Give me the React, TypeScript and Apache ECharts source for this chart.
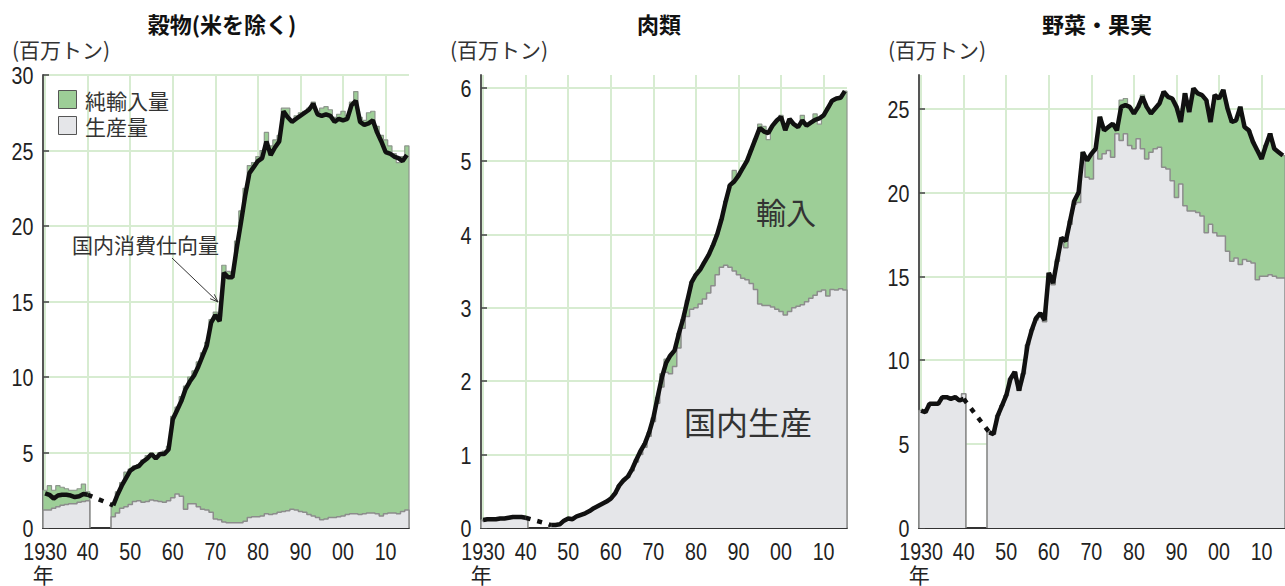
import React, { useEffect, useRef } from 'react';
import * as echarts from 'echarts';

const N = null;
const years: number[] = Array.from({ length: 86 }, (_, i) => 1930 + i);
const decadeTicks = [1930, 1940, 1950, 1960, 1970, 1980, 1990, 2000, 2010];

// ---- 穀物(米を除く) ----
const grainProduction = [
  1.2, 1.2, 1.3, 1.4, 1.5, 1.55, 1.6, 1.6, 1.7, 1.75, 1.8,
  N, N, N, N, N,
  0.75, 1.0, 1.3, 1.4, 1.55, 1.75, 1.8, 1.7, 1.75, 1.85,
  1.8, 1.75, 1.7, 1.8, 2.0, 2.25, 2.1, 1.25, 1.6, 1.6,
  1.4, 1.25, 1.2, 1.05, 0.6, 0.55, 0.4, 0.35, 0.35, 0.35,
  0.35, 0.45, 0.7, 0.75, 0.75, 0.8, 0.95, 0.9, 0.95, 1.05,
  1.1, 1.15, 1.25, 1.2, 1.1, 1.05, 0.9, 0.8, 0.7, 0.55,
  0.6, 0.7, 0.7, 0.75, 0.8, 0.9, 0.95, 0.95, 0.9, 0.95,
  1.0, 1.0, 0.95, 0.8, 0.95, 1.0, 1.0, 0.95, 1.1, 1.2,
];
const grainSupply = [
  2.5, 2.8, 2.5, 2.8, 2.7, 2.6, 2.5, 2.5, 2.6, 2.9, 2.4,
  N, N, N, N, N,
  1.6, 2.4, 3.0, 3.7, 3.9, 4.1, 4.2, 4.5, 4.8, 4.9,
  4.8, 5.0, 5.1, 5.4, 7.4, 8.0, 8.7, 9.4, 10.0, 10.4,
  11.0, 11.6, 12.3, 13.8, 14.3, 14.0, 17.4, 17.0, 16.9, 19.0,
  21.0, 22.5, 24.0, 24.2, 24.6, 25.0, 26.2, 25.3, 25.7, 26.0,
  27.8, 27.8, 27.0, 27.3, 27.5, 27.6, 27.8, 28.2, 27.5, 27.8,
  27.9, 27.7, 27.2, 27.4, 27.6, 27.3, 28.2, 28.9, 27.2, 27.0,
  27.5, 27.6, 26.6, 26.0, 25.7, 25.3, 24.8, 24.2, 24.6, 25.3,
];
const grainConsumption = [
  2.3, 2.2, 1.95, 2.15, 2.2, 2.2, 2.15, 2.05, 2.1, 2.25, 2.2,
  N, N, N, N, N,
  1.5, 2.2, 2.8, 3.3, 3.8, 4.0, 4.1, 4.4, 4.6, 4.9,
  4.6, 4.9, 4.9, 5.2, 7.2, 7.8, 8.4, 9.2, 9.7, 10.1,
  10.7, 11.4, 12.1, 13.6, 14.1, 13.7, 16.9, 16.6, 16.6, 18.5,
  20.2, 22.0, 23.5, 23.9, 24.3, 24.5, 25.6, 24.7, 25.2, 25.6,
  27.6, 27.2, 26.9, 27.1, 27.3, 27.5, 27.7, 28.1, 27.4, 27.3,
  27.4, 27.3, 26.9, 27.1, 27.0, 27.1, 28.0, 28.3, 26.9, 26.7,
  26.8, 27.0, 26.2, 25.6, 24.9, 24.8, 24.6, 24.5, 24.3, 24.7,
];
const grainYTicks = [0, 5, 10, 15, 20, 25, 30];

// ---- 肉類 ----
const meatProduction = [
  0.1, 0.11, 0.11, 0.11, 0.12, 0.12, 0.13, 0.14, 0.14, 0.14, 0.13,
  N, N, N, N, N,
  0.04, 0.04, 0.05, 0.1, 0.13, 0.12, 0.16, 0.18, 0.2, 0.23,
  0.27, 0.3, 0.33, 0.36, 0.4, 0.47, 0.58, 0.64, 0.69, 0.78,
  0.9, 1.0, 1.1, 1.25, 1.45, 1.7, 1.92, 2.12, 2.1, 2.2,
  2.45, 2.72, 2.88, 2.98, 3.0, 3.05, 3.12, 3.2, 3.3, 3.45,
  3.55, 3.58, 3.55, 3.5, 3.45, 3.4, 3.38, 3.33, 3.25, 3.05,
  3.03, 3.03, 3.01, 2.98, 2.95, 2.9, 2.95, 3.0, 3.02, 3.04,
  3.08, 3.13, 3.17, 3.22, 3.24, 3.16, 3.25, 3.24, 3.26, 3.24,
];
const meatSupply = [
  0.11, 0.12, 0.12, 0.12, 0.13, 0.13, 0.14, 0.15, 0.15, 0.15, 0.14,
  N, N, N, N, N,
  0.04, 0.04, 0.05, 0.1, 0.13, 0.12, 0.16, 0.18, 0.2, 0.23,
  0.27, 0.3, 0.33, 0.36, 0.4, 0.47, 0.58, 0.65, 0.7, 0.8,
  0.93, 1.05, 1.15, 1.3, 1.5, 1.78, 2.1, 2.3, 2.35, 2.42,
  2.65, 2.85, 3.1, 3.35, 3.45, 3.52, 3.62, 3.72, 3.85, 4.0,
  4.2, 4.45, 4.67, 4.87, 4.8, 4.9, 5.0, 5.15, 5.3, 5.5,
  5.47, 5.29, 5.48, 5.55, 5.62, 5.42, 5.57, 5.5, 5.46, 5.62,
  5.48, 5.52, 5.64, 5.5, 5.62, 5.72, 5.82, 5.85, 5.86, 5.95,
];
const meatConsumption = [
  0.11, 0.12, 0.12, 0.12, 0.13, 0.13, 0.14, 0.15, 0.15, 0.15, 0.14,
  N, N, N, N, N,
  0.04, 0.04, 0.05, 0.1, 0.13, 0.12, 0.16, 0.18, 0.2, 0.23,
  0.27, 0.3, 0.33, 0.36, 0.4, 0.47, 0.58, 0.65, 0.7, 0.8,
  0.93, 1.05, 1.15, 1.3, 1.5, 1.78, 2.05, 2.25, 2.35, 2.42,
  2.65, 2.85, 3.1, 3.35, 3.45, 3.52, 3.62, 3.72, 3.85, 4.0,
  4.2, 4.45, 4.67, 4.72, 4.8, 4.9, 5.0, 5.15, 5.3, 5.45,
  5.4, 5.38, 5.48, 5.55, 5.6, 5.42, 5.57, 5.5, 5.46, 5.55,
  5.48, 5.52, 5.56, 5.58, 5.62, 5.72, 5.82, 5.85, 5.86, 5.95,
];
const meatYTicks = [0, 1, 2, 3, 4, 5, 6];

// ---- 野菜・果実 ----
const vegProduction = [
  7.0, 6.9, 7.4, 7.4, 7.4, 7.8, 7.8, 7.7, 7.8, 7.6, 8.0,
  N, N, N, N, N,
  5.7, 5.6, 6.7, 7.3, 7.9, 8.9, 9.3, 8.2, 9.2, 10.9,
  11.8, 12.4, 12.7, 12.3, 15.0, 14.5, 15.9, 17.2, 16.7, 18.1,
  19.3, 19.4, 22.1, 20.9, 20.8, 22.5, 22.0, 22.3, 22.5, 22.1,
  23.5, 23.1, 23.5, 22.8, 22.6, 23.2, 22.6, 22.0, 22.4, 22.6,
  22.7, 21.5, 21.4, 20.7, 19.7, 20.5, 19.2, 18.9, 18.9, 18.8,
  18.6, 17.6, 18.1, 17.6, 17.4, 17.4, 16.5, 15.9, 16.1, 15.7,
  16.0, 15.9, 15.8, 14.8, 15.0, 15.0, 15.1, 15.0, 14.9, 14.9,
];
const vegSupply = [
  7.0, 6.9, 7.4, 7.4, 7.4, 7.8, 7.8, 7.7, 7.8, 7.6, 8.0,
  N, N, N, N, N,
  5.7, 5.6, 6.7, 7.3, 7.9, 8.9, 9.3, 8.2, 9.2, 10.9,
  11.8, 12.5, 12.8, 12.4, 15.2, 14.6, 16.0, 17.3, 17.1, 18.3,
  19.5, 20.0, 22.4, 21.9, 22.3, 22.6, 24.5, 23.7, 23.9, 24.1,
  23.7, 25.5, 25.6, 25.1, 24.7, 25.1, 25.8, 25.1, 24.7, 25.0,
  25.3, 26.0, 25.7, 25.6, 25.1, 24.2, 25.9, 24.8, 26.2, 25.9,
  25.8, 25.5, 24.2, 25.8, 25.6, 26.1, 25.0, 24.2, 24.3, 25.1,
  23.9, 23.7, 23.0, 22.5, 22.0, 22.8, 23.5, 22.6, 22.4, 22.2,
];
const vegConsumption = [
  7.0, 6.9, 7.4, 7.4, 7.4, 7.8, 7.8, 7.7, 7.8, 7.6, 7.7,
  N, N, N, N, N,
  5.7, 5.6, 6.7, 7.3, 7.9, 8.9, 9.3, 8.2, 9.2, 10.9,
  11.8, 12.5, 12.8, 12.4, 15.2, 14.6, 16.0, 17.3, 17.1, 18.3,
  19.5, 20.0, 22.4, 21.9, 22.3, 22.6, 24.5, 23.7, 23.9, 24.1,
  23.7, 25.1, 25.2, 25.1, 24.7, 25.1, 25.7, 25.1, 24.7, 25.0,
  25.3, 26.0, 25.7, 25.6, 25.1, 24.2, 25.9, 24.8, 26.2, 25.9,
  25.8, 25.5, 24.2, 25.8, 25.6, 26.1, 25.0, 24.2, 24.3, 25.1,
  23.9, 23.7, 23.0, 22.5, 22.0, 22.8, 23.5, 22.6, 22.4, 22.2,
];
const vegYTicks = [0, 5, 10, 15, 20, 25];

const titles = ['穀物(米を除く)', '肉類', '野菜・果実'];
const unitLabel = '(百万トン)';
const legendLabels = ['純輸入量', '生産量'];
const yearUnit = '年';

const GREEN = '#9dce97';
const GRAY = '#e5e6e9';
const GRID = '#d7ecd1';
const NUM_FONT = '"Liberation Sans", Arial, sans-serif';
const JP_FONT = '"Noto Sans CJK JP", "Noto Sans", sans-serif';

type Val = number | null;

function segments(vals: Val[]): number[][][] {
  const segs: number[][][] = [];
  let cur: number[][] | null = null;
  vals.forEach((v, i) => {
    if (v == null) { cur = null; return; }
    if (!cur) { cur = []; segs.push(cur); }
    cur.push([years[i], v]);
  });
  return segs;
}

function toSteps(seg: number[][]): number[][] {
  const pts: number[][] = [[seg[0][0] - 0.5, 0]];
  seg.forEach(([x, v]) => { pts.push([x - 0.5, v], [x + 0.5, v]); });
  pts.push([seg[seg.length - 1][0] + 0.5, 0]);
  return pts;
}

const panels = [
  { prod: grainProduction, sup: grainSupply, cons: grainConsumption, yMax: 30, yTicks: grainYTicks },
  { prod: meatProduction, sup: meatSupply, cons: meatConsumption, yMax: 6.17, yTicks: meatYTicks },
  { prod: vegProduction, sup: vegSupply, cons: vegConsumption, yMax: 27, yTicks: vegYTicks },
];
const gridLefts = [43, 481, 919];

function txt(x: number, y: number, text: string, size: number, align = 'left', bold = false, fill = '#222') {
  return {
    type: 'text', x, y, z: 100,
    style: {
      text, fill, fontSize: size, lineHeight: size, fontFamily: JP_FONT, fontWeight: bold ? 'bold' : 'normal',
      align, textAlign: align, verticalAlign: 'middle', textVerticalAlign: 'middle',
    },
  };
}

function numText(x: number, y: number, text: string, align: string) {
  return {
    type: 'text', x, y, z: 100, scaleX: 0.82, scaleY: 1,
    style: {
      text, fill: '#222', fontSize: 24, lineHeight: 24, fontFamily: NUM_FONT,
      align, textAlign: align, verticalAlign: 'middle', textVerticalAlign: 'middle',
    },
  };
}

export default function App() {
  const ref = useRef<HTMLDivElement>(null);
  useEffect(() => {
    if (!ref.current) return;
    const chart = echarts.init(ref.current, null, { renderer: 'svg' });
    const grid: any[] = [];
    const xAxis: any[] = [];
    const yAxis: any[] = [];
    const series: any[] = [];
    panels.forEach((p, gi) => {
      grid.push({ left: gridLefts[gi], top: 75, width: 366, height: 453 });
      xAxis.push({
        type: 'value', gridIndex: gi, min: 1929.5, max: 2015.5,
        axisLine: { show: true, lineStyle: { color: '#333', width: 2 } },
        axisTick: { show: true, inside: true, length: 8, customValues: decadeTicks, lineStyle: { color: '#444', width: 1.5 } },
        splitLine: { show: true, lineStyle: { color: GRID, width: 2 } },
        axisLabel: { show: false },
      });
      yAxis.push({
        type: 'value', gridIndex: gi, min: 0, max: p.yMax,
        axisLine: { show: true, lineStyle: { color: '#555', width: 2 } },
        axisTick: { show: true, inside: true, length: 6, customValues: p.yTicks, lineStyle: { color: '#444', width: 1.5 } },
        splitLine: { show: true, lineStyle: { color: GRID, width: 2 } },
        axisLabel: { show: false },
      });
      const top = p.sup.map((v, i) => (v == null ? null : Math.max(v, p.prod[i] as number)));
      segments(top).forEach((seg) => series.push({
        type: 'line', xAxisIndex: gi, yAxisIndex: gi, data: toSteps(seg), symbol: 'none', z: 2,
        lineStyle: { color: '#8d968c', width: 1.2 }, areaStyle: { color: GREEN, opacity: 1 }, silent: true,
      }));
      segments(p.prod).forEach((seg) => series.push({
        type: 'line', xAxisIndex: gi, yAxisIndex: gi, data: toSteps(seg), symbol: 'none', z: 3,
        lineStyle: { color: '#8c8c8c', width: 1.5 }, areaStyle: { color: GRAY, opacity: 1 }, silent: true,
      }));
      segments(p.cons).forEach((seg) => series.push({
        type: 'line', xAxisIndex: gi, yAxisIndex: gi, data: seg, symbol: 'none', z: 5,
        lineStyle: { color: '#111', width: 4.5 }, silent: true,
      }));
      const i40 = years.indexOf(1940);
      const i46 = years.indexOf(1946);
      series.push({
        type: 'line', xAxisIndex: gi, yAxisIndex: gi, symbol: 'none', z: 5, silent: true,
        data: [[1940, p.cons[i40]], [1946, p.cons[i46]]],
        lineStyle: { color: '#111', width: 4.5, type: [5, 7] },
      });
    });

    chart.setOption({ animation: false, grid, xAxis, yAxis, series });

    const graphic: any[] = [
      txt(222, 22.5, titles[0], 22, 'center', true, '#111'),
      txt(659, 22.5, titles[1], 22, 'center', true, '#111'),
      txt(1097, 22.5, titles[2], 22, 'center', true, '#111'),
      txt(12, 49, unitLabel, 21, 'left', false, '#333'),
      txt(450, 49, unitLabel, 21, 'left', false, '#333'),
      txt(888, 49, unitLabel, 21, 'left', false, '#333'),
      { type: 'rect', z: 100, shape: { x: 58.5, y: 90.5, width: 18, height: 18 }, style: { fill: GREEN, stroke: '#555', lineWidth: 1 } },
      { type: 'rect', z: 100, shape: { x: 58.5, y: 116.5, width: 18, height: 18 }, style: { fill: GRAY, stroke: '#555', lineWidth: 1 } },
      txt(85, 100, legendLabels[0], 21, 'left', false, '#333'),
      txt(85, 126, legendLabels[1], 21, 'left', false, '#333'),
      txt(72, 244, '国内消費仕向量', 21, 'left', false, '#333'),
      { type: 'line', z: 100, shape: { x1: 172, y1: 258, x2: 218, y2: 302 }, style: { stroke: '#333', lineWidth: 1 } },
      { type: 'polyline', z: 100, shape: { points: [[210.1, 298.7], [218, 302], [214.3, 294.3]] }, style: { stroke: '#333', lineWidth: 1, fill: 'none' } },
      txt(786, 211, '輸入', 30, 'center', false, '#333'),
      txt(748, 421, '国内生産', 32, 'center', false, '#333'),
    ];

    // axis labels, placed through the axes' own scales
    panels.forEach((p, gi) => {
      decadeTicks.forEach((v) => {
        const pt = chart.convertToPixel({ gridIndex: gi }, [v, 0]) as number[];
        graphic.push(numText(pt[0], 552, v === 1930 ? '1930' : String(v).slice(2), 'center'));
        if (v === 1930) graphic.push(txt(pt[0] - 2, 574, yearUnit, 21, 'center', false, '#222'));
      });
      p.yTicks.forEach((t) => {
        const pt = chart.convertToPixel({ gridIndex: gi }, [1929.5, t]) as number[];
        graphic.push(numText(pt[0] - 9.5, pt[1] + 1, String(t), 'right'));
      });
    });

    chart.setOption({ graphic });
    return () => chart.dispose();
  }, []);
  return <div ref={ref} style={{ position: 'absolute', left: 0, top: 0, width: 1285, height: 586, background: '#fff' }} />;
}
